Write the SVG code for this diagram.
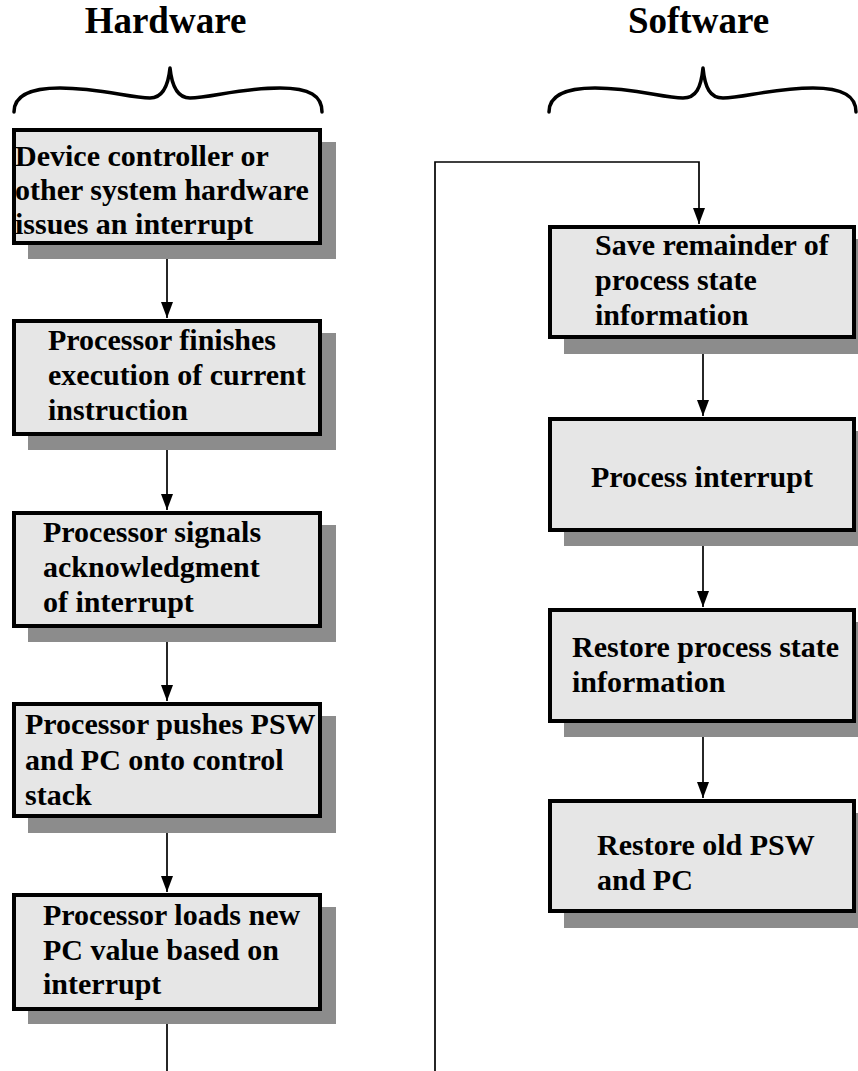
<svg xmlns="http://www.w3.org/2000/svg" width="858" height="1071" viewBox="0 0 858 1071">
<defs>
<style>
.t{font-family:"Liberation Serif","Times New Roman",serif;font-weight:bold;fill:#000}
.title{font-size:37px;text-anchor:middle}
.lbl{font-size:30px}
.box{fill:#e6e6e6;stroke:#000;stroke-width:4}
.sh{fill:#8c8c8c}
.brace{fill:none;stroke:#000;stroke-width:3.5;stroke-linejoin:round;stroke-linecap:round}
.ln{fill:none;stroke:#000;stroke-width:1.7}
</style>
<marker id="ah" markerUnits="userSpaceOnUse" markerWidth="16" markerHeight="12" refX="16" refY="6" orient="auto">
<path d="M0,0 L16,6 L0,12 z" fill="#000"/>
</marker>
</defs>
<rect width="858" height="1071" fill="#fff"/>

<g id="titles">
<text class="t title" x="165.5" y="33">Hardware</text>
<text class="t title" x="698.5" y="33">Software</text>
</g>

<g id="braces">
<path class="brace" d="M14,112 C14,96 30,88 60,88 C100,88 130,98 150,98 C162,98 168,88 170,68 C172,88 178,98 190,98 C210,98 240,88 280,88 C310,88 322,96 322,112"/>
<path class="brace" d="M549,112 C549,96 565,88 595,88 C635,88 663,98 683,98 C696,98 701,88 703,68 C705,88 710,98 723,98 C743,98 773,88 813,88 C843,88 856,96 856,112"/>
</g>

<g id="connectors">
<line class="ln" x1="167" y1="245" x2="167" y2="318" marker-end="url(#ah)"/>
<line class="ln" x1="167" y1="436" x2="167" y2="510" marker-end="url(#ah)"/>
<line class="ln" x1="167" y1="628" x2="167" y2="701" marker-end="url(#ah)"/>
<line class="ln" x1="167" y1="818" x2="167" y2="892" marker-end="url(#ah)"/>
<line class="ln" x1="167" y1="1011" x2="167" y2="1071"/>
<polyline class="ln" points="435,1071 435,162 699,162 699,224" marker-end="url(#ah)"/>
<line class="ln" x1="703" y1="339" x2="703" y2="416" marker-end="url(#ah)"/>
<line class="ln" x1="703" y1="532" x2="703" y2="607" marker-end="url(#ah)"/>
<line class="ln" x1="703" y1="723" x2="703" y2="798" marker-end="url(#ah)"/>
</g>

<g id="hw1">
<rect class="sh" x="28" y="142" width="308" height="117"/>
<rect class="box" x="14" y="130" width="306" height="113"/>
<text class="t lbl" x="15" y="166">Device controller or</text>
<text class="t lbl" x="15" y="200">other system hardware</text>
<text class="t lbl" x="15" y="234">issues an interrupt</text>
</g>

<g id="hw2">
<rect class="sh" x="28" y="333" width="308" height="117"/>
<rect class="box" x="14" y="321" width="306" height="113"/>
<text class="t lbl" x="48" y="350">Processor finishes</text>
<text class="t lbl" x="48" y="385">execution of current</text>
<text class="t lbl" x="48" y="420">instruction</text>
</g>

<g id="hw3">
<rect class="sh" x="28" y="525" width="308" height="117"/>
<rect class="box" x="14" y="513" width="306" height="113"/>
<text class="t lbl" x="43" y="542">Processor signals</text>
<text class="t lbl" x="43" y="577">acknowledgment</text>
<text class="t lbl" x="43" y="612">of interrupt</text>
</g>

<g id="hw4">
<rect class="sh" x="28" y="716" width="308" height="117"/>
<rect class="box" x="14" y="704" width="306" height="112"/>
<text class="t lbl" x="25" y="734">Processor pushes PSW</text>
<text class="t lbl" x="25" y="770">and PC onto control</text>
<text class="t lbl" x="25" y="805">stack</text>
</g>

<g id="hw5">
<rect class="sh" x="28" y="907" width="308" height="117"/>
<rect class="box" x="14" y="895" width="306" height="114"/>
<text class="t lbl" x="43" y="925">Processor loads new</text>
<text class="t lbl" x="43" y="960">PC value based on</text>
<text class="t lbl" x="43" y="994">interrupt</text>
</g>

<g id="sw1">
<rect class="sh" x="564" y="239" width="308" height="115"/>
<rect class="box" x="550" y="227" width="304" height="110"/>
<text class="t lbl" x="595" y="255">Save remainder of</text>
<text class="t lbl" x="595" y="290">process state</text>
<text class="t lbl" x="595" y="325">information</text>
</g>

<g id="sw2">
<rect class="sh" x="564" y="431" width="308" height="115"/>
<rect class="box" x="550" y="419" width="304" height="111"/>
<text class="t lbl" x="591" y="487">Process interrupt</text>
</g>

<g id="sw3">
<rect class="sh" x="564" y="622" width="308" height="115"/>
<rect class="box" x="550" y="610" width="304" height="111"/>
<text class="t lbl" x="572" y="657">Restore process state</text>
<text class="t lbl" x="572" y="692">information</text>
</g>

<g id="sw4">
<rect class="sh" x="564" y="813" width="308" height="115"/>
<rect class="box" x="550" y="801" width="304" height="110"/>
<text class="t lbl" x="597" y="855">Restore old PSW</text>
<text class="t lbl" x="597" y="890">and PC</text>
</g>
</svg>
